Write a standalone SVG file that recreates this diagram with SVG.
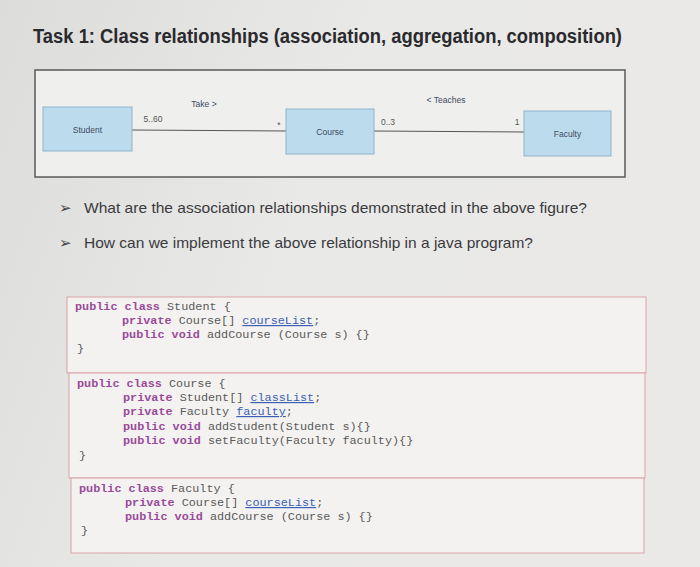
<svg xmlns="http://www.w3.org/2000/svg" width="700" height="567" viewBox="0 0 700 567">
<defs>
<linearGradient id="bg" x1="0" y1="0" x2="1" y2="0.3">
<stop offset="0" stop-color="#dcdcda"/>
<stop offset="0.5" stop-color="#e9e9e7"/>
<stop offset="1" stop-color="#eae9e7"/>
</linearGradient>
<style>
.title{font-family:"Liberation Sans",Arial,sans-serif;font-weight:bold;font-size:20px;fill:#2a2a2e}
.q{font-family:"Liberation Sans",Arial,sans-serif;font-size:15px;fill:#3a3a3e}
.bul{font-family:"DejaVu Sans",sans-serif;font-size:15px;fill:#444}
.cls{fill:#bcdcee;stroke:#8db3cb;stroke-width:1}
.lbl{font-family:"Liberation Sans",Arial,sans-serif;font-size:8.5px;fill:#3e4a60}
.mult{font-family:"Liberation Sans",Arial,sans-serif;font-size:8.5px;fill:#555}
.edge{stroke:#555;stroke-width:1;fill:none}
.code{font-family:"Liberation Mono","DejaVu Sans Mono",monospace;font-size:11.8px;fill:#5a5a5a}
.kw{fill:#9a4a9a;font-weight:bold}
.lnk{fill:#3b5fb5;text-decoration:underline}
.cbox{fill:#f3f2f0;stroke:#d9a3aa;stroke-width:1}
</style>
</defs>
<rect width="700" height="567" fill="url(#bg)"/>
<text class="title" x="33" y="43" textLength="589" lengthAdjust="spacingAndGlyphs">Task 1: Class relationships (association, aggregation, composition)</text>

<rect x="35" y="70" width="590" height="107" fill="#efefed" stroke="#5a5a5a" stroke-width="1.5"/>

<g id="connectors">
<line class="edge" x1="132" y1="130" x2="286" y2="131"/>
<line class="edge" x1="374" y1="131" x2="524" y2="132"/>
<text class="lbl" x="204" y="107" text-anchor="middle">Take &gt;</text>
<text class="lbl" x="446" y="103" text-anchor="middle">&lt; Teaches</text>
<text class="mult" x="153" y="122" text-anchor="middle">5..60</text>
<text class="mult" x="279" y="128" text-anchor="middle">*</text>
<text class="mult" x="388" y="125" text-anchor="middle">0..3</text>
<text class="mult" x="517" y="125" text-anchor="middle">1</text>
</g>
<g id="student">
<rect class="cls" x="43" y="107" width="89" height="44"/>
<text class="lbl" x="87.5" y="133" text-anchor="middle">Student</text>
</g>
<g id="course">
<rect class="cls" x="286" y="109" width="88" height="45"/>
<text class="lbl" x="330" y="135" text-anchor="middle">Course</text>
</g>
<g id="faculty">
<rect class="cls" x="524" y="111" width="87" height="45"/>
<text class="lbl" x="567.5" y="137" text-anchor="middle">Faculty</text>
</g>

<text class="bul" x="59" y="213">➢</text>
<text class="q" x="84" y="213" textLength="503" lengthAdjust="spacingAndGlyphs">What are the association relationships demonstrated in the above figure?</text>
<text class="bul" x="59" y="248">➢</text>
<text class="q" x="84" y="248" textLength="449" lengthAdjust="spacingAndGlyphs">How can we implement the above relationship in a java program?</text>

<rect class="cbox" x="67" y="297" width="579" height="76"/>
<rect class="cbox" x="69" y="373" width="576" height="105"/>
<rect class="cbox" x="71" y="478" width="573" height="75"/>

<text class="code" x="75" y="310"><tspan class="kw">public class</tspan> Student {</text>
<text class="code" x="122" y="324"><tspan class="kw">private</tspan> Course[] <tspan class="lnk">courseList</tspan>;</text>
<text class="code" x="122" y="338"><tspan class="kw">public void</tspan> addCourse (Course s) {}</text>
<text class="code" x="77" y="352">}</text>

<text class="code" x="77" y="387"><tspan class="kw">public class</tspan> Course {</text>
<text class="code" x="123" y="401"><tspan class="kw">private</tspan> Student[] <tspan class="lnk">classList</tspan>;</text>
<text class="code" x="123" y="415"><tspan class="kw">private</tspan> Faculty <tspan class="lnk">faculty</tspan>;</text>
<text class="code" x="123" y="430"><tspan class="kw">public void</tspan> addStudent(Student s){}</text>
<text class="code" x="123" y="444"><tspan class="kw">public void</tspan> setFaculty(Faculty faculty){}</text>
<text class="code" x="79" y="459">}</text>

<text class="code" x="79" y="492"><tspan class="kw">public class</tspan> Faculty {</text>
<text class="code" x="125" y="506"><tspan class="kw">private</tspan> Course[] <tspan class="lnk">courseList</tspan>;</text>
<text class="code" x="125" y="520"><tspan class="kw">public void</tspan> addCourse (Course s) {}</text>
<text class="code" x="81" y="534">}</text>
</svg>
